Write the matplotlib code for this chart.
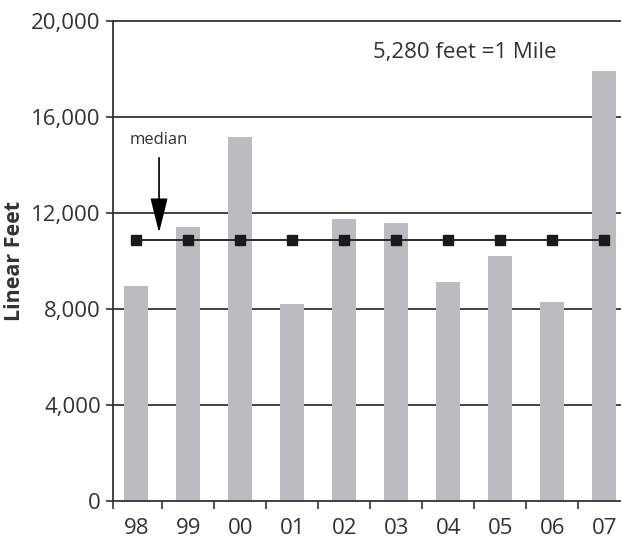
import numpy as np
import matplotlib
matplotlib.use("Agg")
import matplotlib.pyplot as plt

plt.rcParams['font.family'] = ['Open Sans', 'DejaVu Sans']

# data
years = ['98', '99', '00', '01', '02', '03', '04', '05', '06', '07']
linear_feet = [8980, 11430, 15190, 8220, 11760, 11610, 9140, 10220, 8300, 17930]
median_feet = 10890
y_ticks = [0, 4000, 8000, 12000, 16000, 20000]

text_col = '#333333'
bar_col = '#bbbcc0'

fig = plt.figure(figsize=(6.21, 5.39), dpi=100)
ax = fig.add_axes([113.3 / 621, 37.7 / 539, 507.7 / 621, 480 / 539])

x = np.arange(len(years))
x_left = -0.44
ax.set_xlim(x_left, x_left + 507.7 / 52)
ax.set_ylim(0, 20000)

# horizontal rules behind the bars
for yv in y_ticks[1:]:
    ax.axhline(yv, color=text_col, lw=1.3, zorder=0, clip_on=False)

ax.bar(x, linear_feet, width=0.47, color=bar_col, zorder=2)

# median line with square markers
ax.plot(x, [median_feet] * len(x), color='#2a2a2a', lw=1.4, marker='s',
        markersize=6.5, markerfacecolor='#1a1a1a', markeredgecolor='#1a1a1a', zorder=3)

ax.annotate('median', xy=(0.44, 11190), xytext=(0.44, 15050),
            ha='center', va='center', fontsize=12, color=text_col,
            arrowprops=dict(arrowstyle='-|>,head_length=1.8,head_width=0.45',
                            color='black', lw=1.2, shrinkA=5, shrinkB=0),
            zorder=4)

ax.text(0.511, 0.934, '5,280 feet =1 Mile', transform=ax.transAxes,
        ha='left', va='center', fontsize=16, color=text_col)

# axes styling
for s in ['top', 'right']:
    ax.spines[s].set_visible(False)
for s in ['left', 'bottom']:
    ax.spines[s].set_color(text_col)
    ax.spines[s].set_linewidth(1.3)

ax.set_yticks(y_ticks)
ax.set_yticklabels(['{:,}'.format(v) for v in y_ticks])
ax.tick_params(axis='y', direction='out', length=5, width=1.2, color=text_col,
               pad=4, labelsize=16, labelcolor=text_col)

ax.set_xticks(x)
ax.set_xticklabels(years)
ax.set_xticks([x_left] + list(x[:-1] + 0.5), minor=True)
ax.tick_params(axis='x', which='major', length=0, pad=12, labelsize=16, labelcolor=text_col)
ax.tick_params(axis='x', which='minor', direction='out', length=6, width=1.2, color=text_col)

fig.text(15 / 621, 1 - 261 / 539, 'Linear Feet', rotation=90, ha='center', va='center',
         fontsize=15.5, fontweight='bold', color=text_col)

fig.savefig('out.png', dpi=100)
